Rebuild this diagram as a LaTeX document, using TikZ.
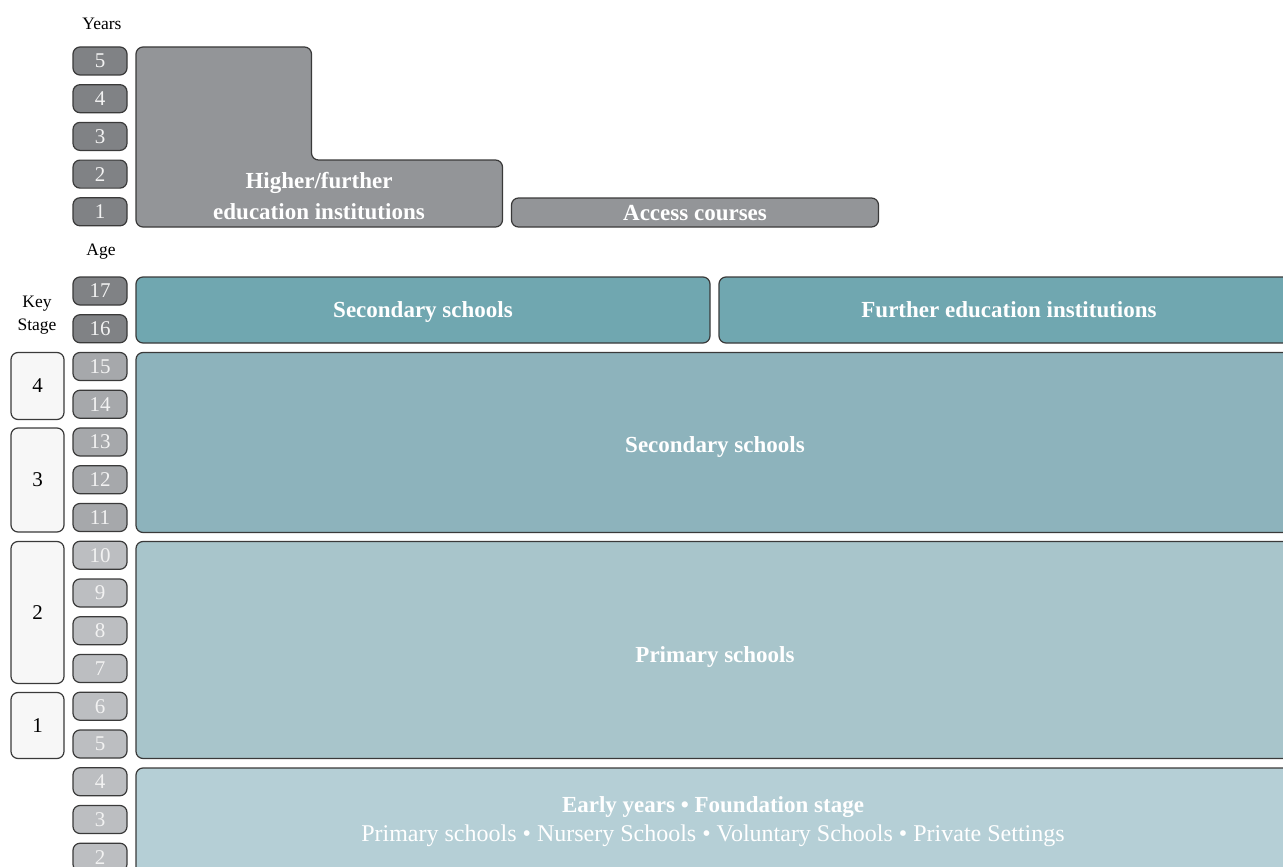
\documentclass[tikz,border=0pt]{standalone}
\usepackage{fontspec}
\setmainfont{Liberation Serif}
\definecolor{linecol}{HTML}{3A3A3A}
\definecolor{hgray}{HTML}{939598}
\definecolor{dgray}{HTML}{808285}
\definecolor{mgray}{HTML}{A6A8AB}
\definecolor{lgray}{HTML}{BCBEC1}
\definecolor{ksfill}{HTML}{F7F7F7}
\definecolor{tealA}{HTML}{70A7B0}
\definecolor{tealB}{HTML}{8DB3BC}
\definecolor{tealC}{HTML}{A8C5CB}
\definecolor{tealD}{HTML}{B5CFD6}
\definecolor{numtext}{HTML}{F2F2F2}
\begin{document}
\begin{tikzpicture}[x=1pt,y=-1pt,
  every node/.style={inner sep=0pt, outer sep=0pt},
  frame/.style={draw=linecol, line width=1.2pt, rounded corners=7pt},
  numbox/.style={frame, minimum width=54pt, minimum height=28pt, anchor=north west,
    text=numtext, font=\fontsize{21}{21}\selectfont},
  ksbox/.style={frame, fill=ksfill, minimum width=53pt, anchor=north west,
    font=\fontsize{21}{21}\selectfont},
  block/.style={frame, anchor=north west, text=white, text depth=0pt,
    font=\fontsize{23}{23}\selectfont\bfseries},
  btext/.style={text=white, text depth=0pt, font=\fontsize{23}{23}\selectfont\bfseries},
  hdr/.style={font=\fontsize{17.5}{20}\selectfont, text=black}
]
\clip (0,0) rectangle (1283,867);

% headings
\node[hdr] (years) at (102,24) {Years};
\node[hdr] (age) at (101,252) {Age};
\node[hdr, align=center, font=\fontsize{17.5}{23}\selectfont] (keystage) at (37,315) {Key\\Stage};

% year boxes
\foreach \n [count=\i from 0] in {5,4,3,2,1}
  \node[numbox, fill=dgray] (yr\n) at (73,{47+37.7*\i}) {\n};

% age boxes
\foreach \a in {17,16}
  \node[numbox, fill=dgray] (age\a) at (73,{277+37.75*(17-\a)}) {\a};
\foreach \a in {15,14,13,12,11}
  \node[numbox, fill=mgray] (age\a) at (73,{277+37.75*(17-\a)}) {\a};
\foreach \a in {10,9,8,7,6,5,4,3,2}
  \node[numbox, fill=lgray] (age\a) at (73,{277+37.75*(17-\a)}) {\a};

% key stage boxes
\node[ksbox, minimum height=67pt] (ks4) at (11,352.5) {4};
\node[ksbox, minimum height=104pt] (ks3) at (11,428) {3};
\node[ksbox, minimum height=142pt] (ks2) at (11,541.5) {2};
\node[ksbox, minimum height=66pt] (ks1) at (11,692.5) {1};

% higher / further education (L shape)
\path[frame, fill=hgray] (136,47) -- (311.5,47) -- (311.5,160) -- (502.5,160)
  -- (502.5,227) -- (136,227) -- cycle;
\node[text=white, font=\fontsize{23}{31}\selectfont\bfseries, align=center] (heitext)
  at (319,196) {Higher/further\\education institutions};

% access courses
\node[block, fill=hgray, minimum width=367pt, minimum height=29pt] (access) at (511.5,198) {Access courses};

% post-16
\node[block, fill=tealA, minimum width=574pt, minimum height=66pt] (sec16) at (136,277) {Secondary schools};
\node[block, fill=tealA, minimum width=580pt, minimum height=66pt] (fe) at (719,277) {Further education institutions};

% secondary 11-15
\node[block, fill=tealB, minimum width=1164pt, minimum height=180pt] (sec) at (136,352.5) {};
\node[btext] (sectext) at (715,444.5) {Secondary schools};

% primary
\node[block, fill=tealC, minimum width=1164pt, minimum height=217pt] (prim) at (136,541.5) {};
\node[btext] (primtext) at (715,654.5) {Primary schools};

% early years
\node[block, fill=tealD, minimum width=1164pt, minimum height=140pt] (early) at (136,768) {};
\node[text=white, align=center, font=\fontsize{23}{29}\selectfont] (eytext) at (713,822)
  {\textbf{Early years \textbullet\ Foundation stage}\\
   \fontsize{24}{29}\selectfont Primary schools \textbullet\ Nursery Schools \textbullet\ Voluntary Schools \textbullet\ Private Settings};
\end{tikzpicture}
\end{document}
